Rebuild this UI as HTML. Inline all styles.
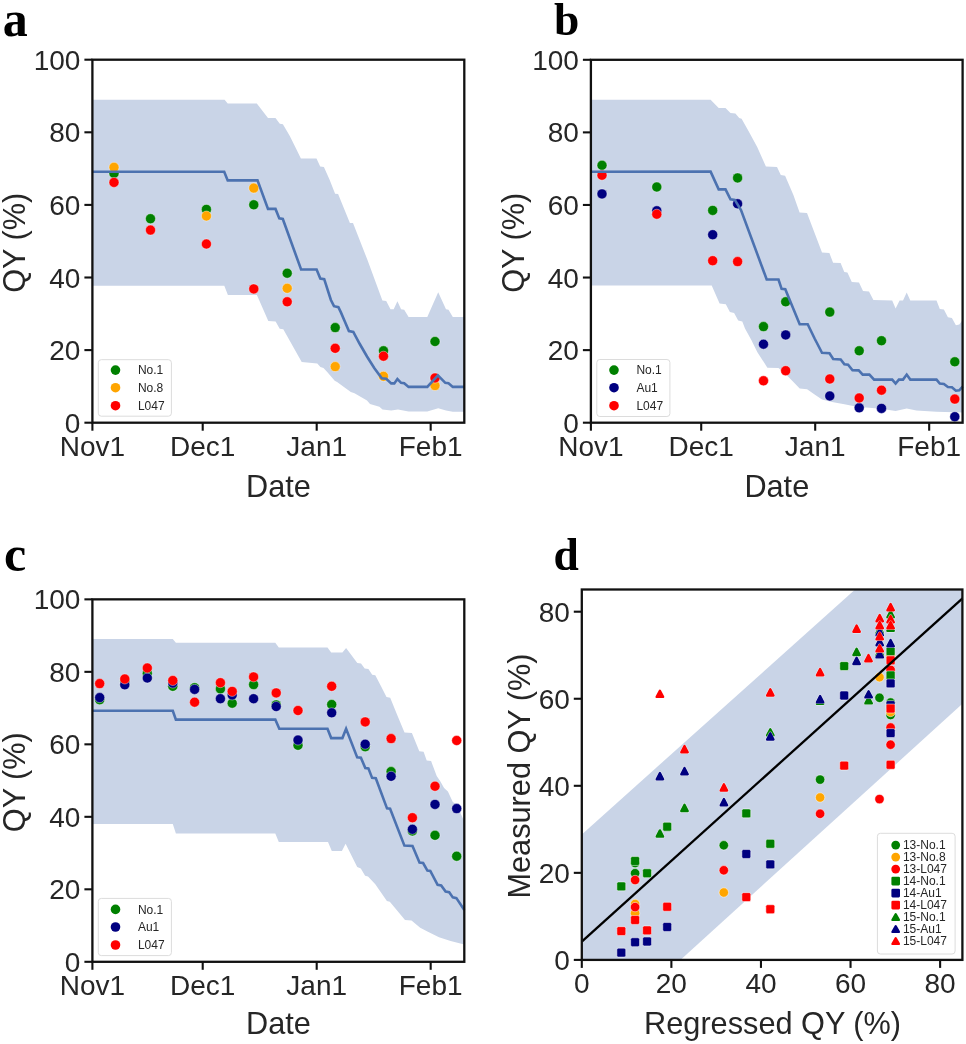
<!DOCTYPE html><html><head><meta charset="utf-8"><style>html,body{margin:0;padding:0;background:#fff;overflow:hidden}svg{display:block;will-change:transform}</style></head><body><svg width="966" height="1044" viewBox="0 0 966 1044">
<style>.tk{font-family:"Liberation Sans",sans-serif;font-size:28px;fill:#262626}.al{font-family:"Liberation Sans",sans-serif;font-size:30.7px;fill:#262626}.lg{font-family:"Liberation Sans",sans-serif;font-size:12px;fill:#262626}.pl{font-family:"Liberation Serif",serif;font-weight:bold;font-size:48px;fill:#000}</style>
<rect width="966" height="1044" fill="#fff"/>
<polygon points="92.4,99.7 224.6,99.7 227.7,103.4 256.8,103.4 268.0,118.0 275.5,118.0 279.8,123.8 282.9,124.2 289.8,136.0 296.0,148.4 300.9,158.6 316.5,158.6 320.2,166.4 323.9,167.0 329.5,179.5 335.1,193.8 338.1,193.9 349.9,222.9 353.0,222.9 367.3,259.6 382.4,300.4 386.2,301.0 390.5,309.3 393.7,309.3 397.4,301.2 401.1,309.3 404.2,309.7 408.6,317.1 427.3,317.1 438.2,292.2 446.0,309.3 448.5,309.7 452.8,317.1 464.3,317.1 464.3,411.8 452.8,411.8 446.0,410.5 438.2,408.3 427.3,411.4 408.6,411.4 398.0,409.6 391.2,410.5 382.5,409.6 379.4,406.8 370.0,404.0 367.0,400.6 354.5,393.2 350.8,391.9 344.6,387.6 337.1,382.0 334.7,380.7 327.2,372.0 323.5,368.1 320.4,367.1 317.3,363.4 301.7,362.0 283.3,329.2 279.7,328.7 275.6,321.4 268.3,320.9 256.9,295.0 227.9,295.0 224.3,285.7 92.4,285.7" fill="#c9d4e7"/>
<circle cx="114" cy="173.4" r="5.0" fill="#008000" stroke="#fff" stroke-width="0.4"/>
<circle cx="150.5" cy="218.7" r="5.0" fill="#008000" stroke="#fff" stroke-width="0.4"/>
<circle cx="206.4" cy="209.4" r="5.0" fill="#008000" stroke="#fff" stroke-width="0.4"/>
<circle cx="253.8" cy="204.8" r="5.0" fill="#008000" stroke="#fff" stroke-width="0.4"/>
<circle cx="287.2" cy="273.2" r="5.0" fill="#008000" stroke="#fff" stroke-width="0.4"/>
<circle cx="335.2" cy="327.6" r="5.0" fill="#008000" stroke="#fff" stroke-width="0.4"/>
<circle cx="383.5" cy="350.8" r="5.0" fill="#008000" stroke="#fff" stroke-width="0.4"/>
<circle cx="435" cy="341.5" r="5.0" fill="#008000" stroke="#fff" stroke-width="0.4"/>
<circle cx="114" cy="167.3" r="5.0" fill="#ffa500" stroke="#fff" stroke-width="0.4"/>
<circle cx="206.4" cy="216" r="5.0" fill="#ffa500" stroke="#fff" stroke-width="0.4"/>
<circle cx="253.8" cy="188.1" r="5.0" fill="#ffa500" stroke="#fff" stroke-width="0.4"/>
<circle cx="287.2" cy="288.3" r="5.0" fill="#ffa500" stroke="#fff" stroke-width="0.4"/>
<circle cx="335.2" cy="366.6" r="5.0" fill="#ffa500" stroke="#fff" stroke-width="0.4"/>
<circle cx="383.5" cy="376.3" r="5.0" fill="#ffa500" stroke="#fff" stroke-width="0.4"/>
<circle cx="435" cy="385.6" r="5.0" fill="#ffa500" stroke="#fff" stroke-width="0.4"/>
<circle cx="114" cy="182.4" r="5.0" fill="#ff0000" stroke="#fff" stroke-width="0.4"/>
<circle cx="150.5" cy="230.1" r="5.0" fill="#ff0000" stroke="#fff" stroke-width="0.4"/>
<circle cx="206.4" cy="244" r="5.0" fill="#ff0000" stroke="#fff" stroke-width="0.4"/>
<circle cx="253.8" cy="288.9" r="5.0" fill="#ff0000" stroke="#fff" stroke-width="0.4"/>
<circle cx="287.2" cy="301.8" r="5.0" fill="#ff0000" stroke="#fff" stroke-width="0.4"/>
<circle cx="335.2" cy="348.3" r="5.0" fill="#ff0000" stroke="#fff" stroke-width="0.4"/>
<circle cx="383.5" cy="356.2" r="5.0" fill="#ff0000" stroke="#fff" stroke-width="0.4"/>
<circle cx="435" cy="378" r="5.0" fill="#ff0000" stroke="#fff" stroke-width="0.4"/>
<polyline points="92.4,171.7 224.2,171.7 227.7,180.4 257.5,180.4 268.0,208.9 275.5,208.9 279.3,218.4 282.8,219.0 301.1,269.5 316.6,269.5 320.3,278.5 324.2,279.2 330.9,300.0 334.0,306.2 338.4,307.2 340.9,312.4 344.6,321.1 348.9,331.1 353.3,332.0 359.5,343.5 367.0,356.5 374.4,368.3 381.8,378.2 386.2,378.8 391.2,383.4 394.3,383.4 397.4,379.0 401.1,382.8 404.2,383.2 408.6,386.9 427.3,386.9 437.9,375.3 445.3,382.8 448.5,383.2 452.8,386.9 464.3,386.9" fill="none" stroke="#4c72b0" stroke-width="2.6" stroke-linejoin="miter"/>
<rect x="98.3" y="359.7" width="73.1" height="56.5" rx="3" fill="#fff" fill-opacity="0.8" stroke="#dcdcdc" stroke-width="1"/>
<circle cx="115.5" cy="370.1" r="4.8" fill="#008000"/>
<text x="137.9" y="374.4" class="lg">No.1</text>
<circle cx="115.5" cy="387.7" r="4.8" fill="#ffa500"/>
<text x="137.9" y="392.0" class="lg">No.8</text>
<circle cx="115.5" cy="405.7" r="4.8" fill="#ff0000"/>
<text x="137.9" y="410.0" class="lg">L047</text>
<rect x="92.4" y="59.7" width="371.90" height="363.00" fill="none" stroke="#111" stroke-width="2.3"/>
<line x1="84.4" y1="422.70" x2="92.4" y2="422.70" stroke="#111" stroke-width="2.1"/>
<text x="80.4" y="432.80" text-anchor="end" class="tk">0</text>
<line x1="84.4" y1="350.10" x2="92.4" y2="350.10" stroke="#111" stroke-width="2.1"/>
<text x="80.4" y="360.20" text-anchor="end" class="tk">20</text>
<line x1="84.4" y1="277.50" x2="92.4" y2="277.50" stroke="#111" stroke-width="2.1"/>
<text x="80.4" y="287.60" text-anchor="end" class="tk">40</text>
<line x1="84.4" y1="204.90" x2="92.4" y2="204.90" stroke="#111" stroke-width="2.1"/>
<text x="80.4" y="215.00" text-anchor="end" class="tk">60</text>
<line x1="84.4" y1="132.30" x2="92.4" y2="132.30" stroke="#111" stroke-width="2.1"/>
<text x="80.4" y="142.40" text-anchor="end" class="tk">80</text>
<line x1="84.4" y1="59.70" x2="92.4" y2="59.70" stroke="#111" stroke-width="2.1"/>
<text x="80.4" y="69.80" text-anchor="end" class="tk">100</text>
<line x1="92.40" y1="422.7" x2="92.40" y2="430.7" stroke="#111" stroke-width="2.1"/>
<text x="92.40" y="455.50" text-anchor="middle" class="tk">Nov1</text>
<line x1="202.71" y1="422.7" x2="202.71" y2="430.7" stroke="#111" stroke-width="2.1"/>
<text x="202.71" y="455.50" text-anchor="middle" class="tk">Dec1</text>
<line x1="316.70" y1="422.7" x2="316.70" y2="430.7" stroke="#111" stroke-width="2.1"/>
<text x="316.70" y="455.50" text-anchor="middle" class="tk">Jan1</text>
<line x1="430.68" y1="422.7" x2="430.68" y2="430.7" stroke="#111" stroke-width="2.1"/>
<text x="430.68" y="455.50" text-anchor="middle" class="tk">Feb1</text>
<text x="278.4" y="496.5" text-anchor="middle" class="al">Date</text>
<text transform="translate(25.4,242.8) rotate(-90)" text-anchor="middle" class="al">QY (%)</text>
<text x="2.8" y="35.7" class="pl" style="font-size:50px">a</text>
<polygon points="590.9,99.7 710.6,99.7 718.7,108.0 725.5,108.0 730.5,113.0 735.4,113.6 739.2,118.0 741.6,118.8 748.5,131.0 757.2,147.1 765.9,166.4 777.0,167.0 780.8,175.1 785.1,175.7 793.4,195.0 799.6,212.4 807.0,213.0 822.0,252.4 829.4,253.1 833.1,262.7 840.6,263.1 844.3,272.0 847.4,272.6 851.8,282.0 859.0,282.5 863.0,291.0 869.0,291.5 873.4,300.1 892.2,300.4 895.6,308.5 899.6,300.4 903.0,300.4 906.7,292.4 910.3,300.4 936.5,300.4 939.8,308.9 943.9,309.4 947.9,317.2 951.9,317.9 955.9,325.2 959.3,324.6 962.6,320.0 962.6,412.5 936.5,411.8 916.4,410.4 906.7,408.4 895.6,411.1 882.8,409.1 869.4,407.7 856.8,406.8 844.4,404.3 832.0,401.9 822.0,399.4 814.6,394.4 807.1,389.2 799.7,388.4 792.2,380.7 786.0,374.5 778.5,368.1 767.4,367.7 757.4,352.2 751.2,339.8 745.0,328.6 742.3,321.4 738.2,320.4 734.1,313.1 729.9,312.1 725.8,304.2 719.6,303.4 711.7,285.6 590.9,285.6" fill="#c9d4e7"/>
<circle cx="602" cy="165.3" r="5.0" fill="#008000" stroke="#fff" stroke-width="0.4"/>
<circle cx="656.8" cy="187" r="5.0" fill="#008000" stroke="#fff" stroke-width="0.4"/>
<circle cx="712.7" cy="210.4" r="5.0" fill="#008000" stroke="#fff" stroke-width="0.4"/>
<circle cx="737.6" cy="177.9" r="5.0" fill="#008000" stroke="#fff" stroke-width="0.4"/>
<circle cx="763.5" cy="326.6" r="5.0" fill="#008000" stroke="#fff" stroke-width="0.4"/>
<circle cx="785.7" cy="301.8" r="5.0" fill="#008000" stroke="#fff" stroke-width="0.4"/>
<circle cx="829.8" cy="312.1" r="5.0" fill="#008000" stroke="#fff" stroke-width="0.4"/>
<circle cx="859.2" cy="350.8" r="5.0" fill="#008000" stroke="#fff" stroke-width="0.4"/>
<circle cx="881.5" cy="340.7" r="5.0" fill="#008000" stroke="#fff" stroke-width="0.4"/>
<circle cx="954.8" cy="361.8" r="5.0" fill="#008000" stroke="#fff" stroke-width="0.4"/>
<circle cx="602" cy="193.9" r="5.0" fill="#000080" stroke="#fff" stroke-width="0.4"/>
<circle cx="656.8" cy="210.8" r="5.0" fill="#000080" stroke="#fff" stroke-width="0.4"/>
<circle cx="712.7" cy="234.7" r="5.0" fill="#000080" stroke="#fff" stroke-width="0.4"/>
<circle cx="737.6" cy="203.8" r="5.0" fill="#000080" stroke="#fff" stroke-width="0.4"/>
<circle cx="763.5" cy="344.2" r="5.0" fill="#000080" stroke="#fff" stroke-width="0.4"/>
<circle cx="785.7" cy="334.9" r="5.0" fill="#000080" stroke="#fff" stroke-width="0.4"/>
<circle cx="829.8" cy="396" r="5.0" fill="#000080" stroke="#fff" stroke-width="0.4"/>
<circle cx="859.2" cy="407.8" r="5.0" fill="#000080" stroke="#fff" stroke-width="0.4"/>
<circle cx="881.5" cy="408.4" r="5.0" fill="#000080" stroke="#fff" stroke-width="0.4"/>
<circle cx="954.8" cy="416.7" r="5.0" fill="#000080" stroke="#fff" stroke-width="0.4"/>
<circle cx="602" cy="175.2" r="5.0" fill="#ff0000" stroke="#fff" stroke-width="0.4"/>
<circle cx="656.8" cy="214.2" r="5.0" fill="#ff0000" stroke="#fff" stroke-width="0.4"/>
<circle cx="712.7" cy="260.7" r="5.0" fill="#ff0000" stroke="#fff" stroke-width="0.4"/>
<circle cx="737.6" cy="261.6" r="5.0" fill="#ff0000" stroke="#fff" stroke-width="0.4"/>
<circle cx="763.5" cy="380.8" r="5.0" fill="#ff0000" stroke="#fff" stroke-width="0.4"/>
<circle cx="785.7" cy="370.7" r="5.0" fill="#ff0000" stroke="#fff" stroke-width="0.4"/>
<circle cx="829.8" cy="379" r="5.0" fill="#ff0000" stroke="#fff" stroke-width="0.4"/>
<circle cx="859.2" cy="398" r="5.0" fill="#ff0000" stroke="#fff" stroke-width="0.4"/>
<circle cx="881.5" cy="390.2" r="5.0" fill="#ff0000" stroke="#fff" stroke-width="0.4"/>
<circle cx="954.8" cy="399.1" r="5.0" fill="#ff0000" stroke="#fff" stroke-width="0.4"/>
<polyline points="590.9,171.7 710.6,171.6 718.7,189.4 725.5,189.4 730.5,199.3 734.8,199.9 741.0,210.0 766.7,279.5 778.5,279.5 781.6,288.8 785.3,289.2 789.7,300.0 799.7,324.2 807.7,324.2 814.6,338.5 822.0,352.8 829.5,353.2 833.2,359.0 840.7,359.4 844.4,364.3 848.1,364.8 852.5,370.2 858.7,370.4 862.7,374.6 869.4,374.6 874.1,379.6 892.2,379.6 895.6,383.6 898.9,379.6 903.0,379.6 906.7,374.6 910.3,379.6 936.5,379.6 939.8,383.6 943.9,384.0 947.9,387.0 951.9,387.2 955.9,390.7 959.3,390.3 962.6,386.5" fill="none" stroke="#4c72b0" stroke-width="2.6" stroke-linejoin="miter"/>
<rect x="596.8" y="359.5" width="73.1" height="57.0" rx="3" fill="#fff" fill-opacity="0.8" stroke="#dcdcdc" stroke-width="1"/>
<circle cx="614.0" cy="370.1" r="4.8" fill="#008000"/>
<text x="636.4" y="374.4" class="lg">No.1</text>
<circle cx="614.0" cy="387.7" r="4.8" fill="#000080"/>
<text x="636.4" y="392.0" class="lg">Au1</text>
<circle cx="614.0" cy="405.7" r="4.8" fill="#ff0000"/>
<text x="636.4" y="410.0" class="lg">L047</text>
<rect x="590.9" y="59.8" width="371.70" height="362.90" fill="none" stroke="#111" stroke-width="2.3"/>
<line x1="582.9" y1="422.70" x2="590.9" y2="422.70" stroke="#111" stroke-width="2.1"/>
<text x="578.9" y="432.80" text-anchor="end" class="tk">0</text>
<line x1="582.9" y1="350.12" x2="590.9" y2="350.12" stroke="#111" stroke-width="2.1"/>
<text x="578.9" y="360.22" text-anchor="end" class="tk">20</text>
<line x1="582.9" y1="277.54" x2="590.9" y2="277.54" stroke="#111" stroke-width="2.1"/>
<text x="578.9" y="287.64" text-anchor="end" class="tk">40</text>
<line x1="582.9" y1="204.96" x2="590.9" y2="204.96" stroke="#111" stroke-width="2.1"/>
<text x="578.9" y="215.06" text-anchor="end" class="tk">60</text>
<line x1="582.9" y1="132.38" x2="590.9" y2="132.38" stroke="#111" stroke-width="2.1"/>
<text x="578.9" y="142.48" text-anchor="end" class="tk">80</text>
<line x1="582.9" y1="59.80" x2="590.9" y2="59.80" stroke="#111" stroke-width="2.1"/>
<text x="578.9" y="69.90" text-anchor="end" class="tk">100</text>
<line x1="590.90" y1="422.7" x2="590.90" y2="430.7" stroke="#111" stroke-width="2.1"/>
<text x="590.90" y="455.50" text-anchor="middle" class="tk">Nov1</text>
<line x1="701.21" y1="422.7" x2="701.21" y2="430.7" stroke="#111" stroke-width="2.1"/>
<text x="701.21" y="455.50" text-anchor="middle" class="tk">Dec1</text>
<line x1="815.20" y1="422.7" x2="815.20" y2="430.7" stroke="#111" stroke-width="2.1"/>
<text x="815.20" y="455.50" text-anchor="middle" class="tk">Jan1</text>
<line x1="929.18" y1="422.7" x2="929.18" y2="430.7" stroke="#111" stroke-width="2.1"/>
<text x="929.18" y="455.50" text-anchor="middle" class="tk">Feb1</text>
<text x="776.8" y="496.5" text-anchor="middle" class="al">Date</text>
<text transform="translate(523.9,242.8) rotate(-90)" text-anchor="middle" class="al">QY (%)</text>
<text x="554" y="34.7" class="pl" style="font-size:45.5px">b</text>
<polygon points="92.4,639.0 172.8,639.0 175.9,642.8 275.3,642.8 278.8,647.4 327.5,647.4 331.2,652.4 342.4,652.4 346.1,648.0 357.3,662.9 361.0,663.5 364.7,668.5 368.4,669.1 372.2,674.7 375.3,675.3 380.9,685.9 386.5,697.1 390.2,697.7 397.0,714.5 404.5,732.5 411.9,732.9 419.3,751.2 423.6,751.8 426.7,760.5 431.1,761.1 436.7,776.1 440.4,781.6 444.1,787.9 447.9,791.6 452.8,802.1 456.6,804.6 462.8,818.3 464.3,821.0 464.3,944.6 450.6,940.9 439.0,937.2 427.4,931.4 420.2,927.8 411.5,920.6 405.0,919.9 389.8,901.7 386.9,901.0 375.3,884.3 368.0,876.4 365.1,875.7 360.8,868.4 357.2,867.0 345.6,843.8 341.9,851.0 331.8,851.0 328.0,842.1 278.8,842.1 275.3,833.4 175.9,833.4 172.8,824.1 92.4,824.1" fill="#c9d4e7"/>
<circle cx="99.7" cy="699.7" r="5.0" fill="#008000" stroke="#fff" stroke-width="0.4"/>
<circle cx="124.8" cy="681" r="5.0" fill="#008000" stroke="#fff" stroke-width="0.4"/>
<circle cx="147.3" cy="673.4" r="5.0" fill="#008000" stroke="#fff" stroke-width="0.4"/>
<circle cx="172.8" cy="686.3" r="5.0" fill="#008000" stroke="#fff" stroke-width="0.4"/>
<circle cx="194.6" cy="687.7" r="5.0" fill="#008000" stroke="#fff" stroke-width="0.4"/>
<circle cx="220.4" cy="688.9" r="5.0" fill="#008000" stroke="#fff" stroke-width="0.4"/>
<circle cx="232.2" cy="703.2" r="5.0" fill="#008000" stroke="#fff" stroke-width="0.4"/>
<circle cx="253.6" cy="684.6" r="5.0" fill="#008000" stroke="#fff" stroke-width="0.4"/>
<circle cx="276.2" cy="704.9" r="5.0" fill="#008000" stroke="#fff" stroke-width="0.4"/>
<circle cx="298" cy="745.3" r="5.0" fill="#008000" stroke="#fff" stroke-width="0.4"/>
<circle cx="331.7" cy="704.5" r="5.0" fill="#008000" stroke="#fff" stroke-width="0.4"/>
<circle cx="365.2" cy="746.7" r="5.0" fill="#008000" stroke="#fff" stroke-width="0.4"/>
<circle cx="391.1" cy="771.6" r="5.0" fill="#008000" stroke="#fff" stroke-width="0.4"/>
<circle cx="412.4" cy="831" r="5.0" fill="#008000" stroke="#fff" stroke-width="0.4"/>
<circle cx="435" cy="835.3" r="5.0" fill="#008000" stroke="#fff" stroke-width="0.4"/>
<circle cx="456.7" cy="856.2" r="5.0" fill="#008000" stroke="#fff" stroke-width="0.4"/>
<circle cx="99.7" cy="697.6" r="5.0" fill="#000080" stroke="#fff" stroke-width="0.4"/>
<circle cx="124.8" cy="684.8" r="5.0" fill="#000080" stroke="#fff" stroke-width="0.4"/>
<circle cx="147.3" cy="678" r="5.0" fill="#000080" stroke="#fff" stroke-width="0.4"/>
<circle cx="172.8" cy="683.1" r="5.0" fill="#000080" stroke="#fff" stroke-width="0.4"/>
<circle cx="194.6" cy="689.4" r="5.0" fill="#000080" stroke="#fff" stroke-width="0.4"/>
<circle cx="220.4" cy="698.7" r="5.0" fill="#000080" stroke="#fff" stroke-width="0.4"/>
<circle cx="232.2" cy="695" r="5.0" fill="#000080" stroke="#fff" stroke-width="0.4"/>
<circle cx="253.6" cy="698.7" r="5.0" fill="#000080" stroke="#fff" stroke-width="0.4"/>
<circle cx="276.2" cy="706.5" r="5.0" fill="#000080" stroke="#fff" stroke-width="0.4"/>
<circle cx="298" cy="740.1" r="5.0" fill="#000080" stroke="#fff" stroke-width="0.4"/>
<circle cx="331.7" cy="712.8" r="5.0" fill="#000080" stroke="#fff" stroke-width="0.4"/>
<circle cx="365.2" cy="744.2" r="5.0" fill="#000080" stroke="#fff" stroke-width="0.4"/>
<circle cx="391.1" cy="776.3" r="5.0" fill="#000080" stroke="#fff" stroke-width="0.4"/>
<circle cx="412.4" cy="829.3" r="5.0" fill="#000080" stroke="#fff" stroke-width="0.4"/>
<circle cx="435" cy="804.4" r="5.0" fill="#000080" stroke="#fff" stroke-width="0.4"/>
<circle cx="456.7" cy="808.6" r="5.0" fill="#000080" stroke="#fff" stroke-width="0.4"/>
<circle cx="99.7" cy="683.6" r="5.0" fill="#ff0000" stroke="#fff" stroke-width="0.4"/>
<circle cx="124.8" cy="679" r="5.0" fill="#ff0000" stroke="#fff" stroke-width="0.4"/>
<circle cx="147.3" cy="668" r="5.0" fill="#ff0000" stroke="#fff" stroke-width="0.4"/>
<circle cx="172.8" cy="680.5" r="5.0" fill="#ff0000" stroke="#fff" stroke-width="0.4"/>
<circle cx="194.6" cy="702.2" r="5.0" fill="#ff0000" stroke="#fff" stroke-width="0.4"/>
<circle cx="220.4" cy="682.7" r="5.0" fill="#ff0000" stroke="#fff" stroke-width="0.4"/>
<circle cx="232.2" cy="691.4" r="5.0" fill="#ff0000" stroke="#fff" stroke-width="0.4"/>
<circle cx="253.6" cy="676.9" r="5.0" fill="#ff0000" stroke="#fff" stroke-width="0.4"/>
<circle cx="276.2" cy="692.9" r="5.0" fill="#ff0000" stroke="#fff" stroke-width="0.4"/>
<circle cx="298" cy="710.5" r="5.0" fill="#ff0000" stroke="#fff" stroke-width="0.4"/>
<circle cx="331.7" cy="686.3" r="5.0" fill="#ff0000" stroke="#fff" stroke-width="0.4"/>
<circle cx="365.2" cy="721.9" r="5.0" fill="#ff0000" stroke="#fff" stroke-width="0.4"/>
<circle cx="391.1" cy="738.6" r="5.0" fill="#ff0000" stroke="#fff" stroke-width="0.4"/>
<circle cx="412.4" cy="817.7" r="5.0" fill="#ff0000" stroke="#fff" stroke-width="0.4"/>
<circle cx="435" cy="786.2" r="5.0" fill="#ff0000" stroke="#fff" stroke-width="0.4"/>
<circle cx="456.7" cy="740.5" r="5.0" fill="#ff0000" stroke="#fff" stroke-width="0.4"/>
<polyline points="92.4,710.7 172.8,710.7 175.9,719.6 275.3,719.6 279.3,728.8 327.5,728.8 331.2,738.1 342.4,738.1 346.1,728.8 357.2,757.4 360.9,757.8 365.3,768.0 368.4,768.4 372.1,777.9 375.8,778.3 387.0,808.4 390.1,808.7 404.4,845.6 412.5,846.0 419.5,862.6 423.1,863.0 427.4,870.6 430.3,871.0 437.6,884.8 441.2,885.4 445.6,891.6 449.2,892.3 452.8,897.4 456.4,898.1 464.3,910.0" fill="none" stroke="#4c72b0" stroke-width="2.6" stroke-linejoin="miter"/>
<rect x="98.3" y="898.4" width="73.1" height="57.2" rx="3" fill="#fff" fill-opacity="0.8" stroke="#dcdcdc" stroke-width="1"/>
<circle cx="115.5" cy="909.4" r="4.8" fill="#008000"/>
<text x="137.9" y="913.7" class="lg">No.1</text>
<circle cx="115.5" cy="927" r="4.8" fill="#000080"/>
<text x="137.9" y="931.3" class="lg">Au1</text>
<circle cx="115.5" cy="945" r="4.8" fill="#ff0000"/>
<text x="137.9" y="949.3" class="lg">L047</text>
<rect x="92.4" y="599.35" width="371.90" height="362.45" fill="none" stroke="#111" stroke-width="2.3"/>
<line x1="84.4" y1="961.80" x2="92.4" y2="961.80" stroke="#111" stroke-width="2.1"/>
<text x="80.4" y="971.90" text-anchor="end" class="tk">0</text>
<line x1="84.4" y1="889.31" x2="92.4" y2="889.31" stroke="#111" stroke-width="2.1"/>
<text x="80.4" y="899.41" text-anchor="end" class="tk">20</text>
<line x1="84.4" y1="816.82" x2="92.4" y2="816.82" stroke="#111" stroke-width="2.1"/>
<text x="80.4" y="826.92" text-anchor="end" class="tk">40</text>
<line x1="84.4" y1="744.33" x2="92.4" y2="744.33" stroke="#111" stroke-width="2.1"/>
<text x="80.4" y="754.43" text-anchor="end" class="tk">60</text>
<line x1="84.4" y1="671.84" x2="92.4" y2="671.84" stroke="#111" stroke-width="2.1"/>
<text x="80.4" y="681.94" text-anchor="end" class="tk">80</text>
<line x1="84.4" y1="599.35" x2="92.4" y2="599.35" stroke="#111" stroke-width="2.1"/>
<text x="80.4" y="609.45" text-anchor="end" class="tk">100</text>
<line x1="92.40" y1="961.8" x2="92.40" y2="969.8" stroke="#111" stroke-width="2.1"/>
<text x="92.40" y="994.60" text-anchor="middle" class="tk">Nov1</text>
<line x1="202.71" y1="961.8" x2="202.71" y2="969.8" stroke="#111" stroke-width="2.1"/>
<text x="202.71" y="994.60" text-anchor="middle" class="tk">Dec1</text>
<line x1="316.70" y1="961.8" x2="316.70" y2="969.8" stroke="#111" stroke-width="2.1"/>
<text x="316.70" y="994.60" text-anchor="middle" class="tk">Jan1</text>
<line x1="430.68" y1="961.8" x2="430.68" y2="969.8" stroke="#111" stroke-width="2.1"/>
<text x="430.68" y="994.60" text-anchor="middle" class="tk">Feb1</text>
<text x="278.4" y="1034.2" text-anchor="middle" class="al">Date</text>
<text transform="translate(25.4,782.2) rotate(-90)" text-anchor="middle" class="al">QY (%)</text>
<text x="4" y="571.3" class="pl" style="font-size:50px">c</text>
<polygon points="581.8,959.9 581.8,834.4 855.1,589.5 962.4,589.5 962.4,703.8 680.4,959.9" fill="#c9d4e7"/>
<circle cx="635.1" cy="863" r="4.7" fill="#008000" stroke="#fff" stroke-width="0.5"/>
<circle cx="635.1" cy="873.2" r="4.7" fill="#008000" stroke="#fff" stroke-width="0.5"/>
<circle cx="723.8" cy="845.3" r="4.7" fill="#008000" stroke="#fff" stroke-width="0.5"/>
<circle cx="820.1" cy="779.6" r="4.7" fill="#008000" stroke="#fff" stroke-width="0.5"/>
<circle cx="879.5" cy="697.8" r="4.7" fill="#008000" stroke="#fff" stroke-width="0.5"/>
<circle cx="890.6" cy="702.5" r="4.7" fill="#008000" stroke="#fff" stroke-width="0.5"/>
<circle cx="890.6" cy="715" r="4.7" fill="#008000" stroke="#fff" stroke-width="0.5"/>
<circle cx="635.1" cy="904" r="4.7" fill="#ffa500" stroke="#fff" stroke-width="0.5"/>
<circle cx="635.1" cy="913.3" r="4.7" fill="#ffa500" stroke="#fff" stroke-width="0.5"/>
<circle cx="723.8" cy="892.5" r="4.7" fill="#ffa500" stroke="#fff" stroke-width="0.5"/>
<circle cx="820.1" cy="797.5" r="4.7" fill="#ffa500" stroke="#fff" stroke-width="0.5"/>
<circle cx="879.5" cy="677.2" r="4.7" fill="#ffa500" stroke="#fff" stroke-width="0.5"/>
<circle cx="890.6" cy="712" r="4.7" fill="#ffa500" stroke="#fff" stroke-width="0.5"/>
<circle cx="890.6" cy="655.3" r="4.7" fill="#ffa500" stroke="#fff" stroke-width="0.5"/>
<circle cx="635.1" cy="880" r="4.7" fill="#ff0000" stroke="#fff" stroke-width="0.5"/>
<circle cx="635.1" cy="907.1" r="4.7" fill="#ff0000" stroke="#fff" stroke-width="0.5"/>
<circle cx="723.8" cy="870.3" r="4.7" fill="#ff0000" stroke="#fff" stroke-width="0.5"/>
<circle cx="820.1" cy="813.8" r="4.7" fill="#ff0000" stroke="#fff" stroke-width="0.5"/>
<circle cx="879.5" cy="799.1" r="4.7" fill="#ff0000" stroke="#fff" stroke-width="0.5"/>
<circle cx="890.6" cy="669.9" r="4.7" fill="#ff0000" stroke="#fff" stroke-width="0.5"/>
<circle cx="890.6" cy="727.5" r="4.7" fill="#ff0000" stroke="#fff" stroke-width="0.5"/>
<circle cx="890.6" cy="744.7" r="4.7" fill="#ff0000" stroke="#fff" stroke-width="0.5"/>
<rect x="616.85" y="881.95" width="8.9" height="8.9" rx="1.6" fill="#008000" stroke="#fff" stroke-width="0.5"/>
<rect x="630.65" y="856.55" width="8.9" height="8.9" rx="1.6" fill="#008000" stroke="#fff" stroke-width="0.5"/>
<rect x="642.65" y="868.75" width="8.9" height="8.9" rx="1.6" fill="#008000" stroke="#fff" stroke-width="0.5"/>
<rect x="662.75" y="822.25" width="8.9" height="8.9" rx="1.6" fill="#008000" stroke="#fff" stroke-width="0.5"/>
<rect x="741.85" y="808.95" width="8.9" height="8.9" rx="1.6" fill="#008000" stroke="#fff" stroke-width="0.5"/>
<rect x="765.85" y="839.35" width="8.9" height="8.9" rx="1.6" fill="#008000" stroke="#fff" stroke-width="0.5"/>
<rect x="839.75" y="661.65" width="8.9" height="8.9" rx="1.6" fill="#008000" stroke="#fff" stroke-width="0.5"/>
<rect x="886.15" y="646.85" width="8.9" height="8.9" rx="1.6" fill="#008000" stroke="#fff" stroke-width="0.5"/>
<rect x="886.15" y="670.95" width="8.9" height="8.9" rx="1.6" fill="#008000" stroke="#fff" stroke-width="0.5"/>
<rect x="616.85" y="948.15" width="8.9" height="8.9" rx="1.6" fill="#000080" stroke="#fff" stroke-width="0.5"/>
<rect x="630.65" y="937.75" width="8.9" height="8.9" rx="1.6" fill="#000080" stroke="#fff" stroke-width="0.5"/>
<rect x="642.65" y="937.05" width="8.9" height="8.9" rx="1.6" fill="#000080" stroke="#fff" stroke-width="0.5"/>
<rect x="662.75" y="922.55" width="8.9" height="8.9" rx="1.6" fill="#000080" stroke="#fff" stroke-width="0.5"/>
<rect x="741.85" y="849.55" width="8.9" height="8.9" rx="1.6" fill="#000080" stroke="#fff" stroke-width="0.5"/>
<rect x="765.85" y="859.95" width="8.9" height="8.9" rx="1.6" fill="#000080" stroke="#fff" stroke-width="0.5"/>
<rect x="839.75" y="691.05" width="8.9" height="8.9" rx="1.6" fill="#000080" stroke="#fff" stroke-width="0.5"/>
<rect x="886.15" y="678.95" width="8.9" height="8.9" rx="1.6" fill="#000080" stroke="#fff" stroke-width="0.5"/>
<rect x="886.15" y="700.65" width="8.9" height="8.9" rx="1.6" fill="#000080" stroke="#fff" stroke-width="0.5"/>
<rect x="886.15" y="728.65" width="8.9" height="8.9" rx="1.6" fill="#000080" stroke="#fff" stroke-width="0.5"/>
<rect x="616.85" y="926.65" width="8.9" height="8.9" rx="1.6" fill="#ff0000" stroke="#fff" stroke-width="0.5"/>
<rect x="630.65" y="915.55" width="8.9" height="8.9" rx="1.6" fill="#ff0000" stroke="#fff" stroke-width="0.5"/>
<rect x="642.65" y="925.95" width="8.9" height="8.9" rx="1.6" fill="#ff0000" stroke="#fff" stroke-width="0.5"/>
<rect x="662.75" y="902.35" width="8.9" height="8.9" rx="1.6" fill="#ff0000" stroke="#fff" stroke-width="0.5"/>
<rect x="741.85" y="892.65" width="8.9" height="8.9" rx="1.6" fill="#ff0000" stroke="#fff" stroke-width="0.5"/>
<rect x="765.85" y="904.75" width="8.9" height="8.9" rx="1.6" fill="#ff0000" stroke="#fff" stroke-width="0.5"/>
<rect x="839.75" y="761.15" width="8.9" height="8.9" rx="1.6" fill="#ff0000" stroke="#fff" stroke-width="0.5"/>
<rect x="886.15" y="655.85" width="8.9" height="8.9" rx="1.6" fill="#ff0000" stroke="#fff" stroke-width="0.5"/>
<rect x="886.15" y="704.05" width="8.9" height="8.9" rx="1.6" fill="#ff0000" stroke="#fff" stroke-width="0.5"/>
<rect x="886.15" y="760.35" width="8.9" height="8.9" rx="1.6" fill="#ff0000" stroke="#fff" stroke-width="0.5"/>
<path d="M659.90,830.40 L663.10,836.60 L656.70,836.60 Z" fill="#fff" stroke="#fff" stroke-width="3.3" stroke-linejoin="round" opacity="0.7"/>
<path d="M659.90,830.40 L663.10,836.60 L656.70,836.60 Z" fill="#008000" stroke="#008000" stroke-width="2.4" stroke-linejoin="round"/>
<path d="M684.50,804.80 L687.70,811.00 L681.30,811.00 Z" fill="#fff" stroke="#fff" stroke-width="3.3" stroke-linejoin="round" opacity="0.7"/>
<path d="M684.50,804.80 L687.70,811.00 L681.30,811.00 Z" fill="#008000" stroke="#008000" stroke-width="2.4" stroke-linejoin="round"/>
<path d="M770.30,729.20 L773.50,735.40 L767.10,735.40 Z" fill="#fff" stroke="#fff" stroke-width="3.3" stroke-linejoin="round" opacity="0.7"/>
<path d="M770.30,729.20 L773.50,735.40 L767.10,735.40 Z" fill="#008000" stroke="#008000" stroke-width="2.4" stroke-linejoin="round"/>
<path d="M820.10,697.60 L823.30,703.80 L816.90,703.80 Z" fill="#fff" stroke="#fff" stroke-width="3.3" stroke-linejoin="round" opacity="0.7"/>
<path d="M820.10,697.60 L823.30,703.80 L816.90,703.80 Z" fill="#008000" stroke="#008000" stroke-width="2.4" stroke-linejoin="round"/>
<path d="M856.60,648.80 L859.80,655.00 L853.40,655.00 Z" fill="#fff" stroke="#fff" stroke-width="3.3" stroke-linejoin="round" opacity="0.7"/>
<path d="M856.60,648.80 L859.80,655.00 L853.40,655.00 Z" fill="#008000" stroke="#008000" stroke-width="2.4" stroke-linejoin="round"/>
<path d="M868.60,697.20 L871.80,703.40 L865.40,703.40 Z" fill="#fff" stroke="#fff" stroke-width="3.3" stroke-linejoin="round" opacity="0.7"/>
<path d="M868.60,697.20 L871.80,703.40 L865.40,703.40 Z" fill="#008000" stroke="#008000" stroke-width="2.4" stroke-linejoin="round"/>
<path d="M879.70,649.20 L882.90,655.40 L876.50,655.40 Z" fill="#fff" stroke="#fff" stroke-width="3.3" stroke-linejoin="round" opacity="0.7"/>
<path d="M879.70,649.20 L882.90,655.40 L876.50,655.40 Z" fill="#008000" stroke="#008000" stroke-width="2.4" stroke-linejoin="round"/>
<path d="M890.60,611.00 L893.80,617.20 L887.40,617.20 Z" fill="#fff" stroke="#fff" stroke-width="3.3" stroke-linejoin="round" opacity="0.7"/>
<path d="M890.60,611.00 L893.80,617.20 L887.40,617.20 Z" fill="#008000" stroke="#008000" stroke-width="2.4" stroke-linejoin="round"/>
<path d="M890.60,624.60 L893.80,630.80 L887.40,630.80 Z" fill="#fff" stroke="#fff" stroke-width="3.3" stroke-linejoin="round" opacity="0.7"/>
<path d="M890.60,624.60 L893.80,630.80 L887.40,630.80 Z" fill="#008000" stroke="#008000" stroke-width="2.4" stroke-linejoin="round"/>
<path d="M879.70,626.90 L882.90,633.10 L876.50,633.10 Z" fill="#fff" stroke="#fff" stroke-width="3.3" stroke-linejoin="round" opacity="0.7"/>
<path d="M879.70,626.90 L882.90,633.10 L876.50,633.10 Z" fill="#008000" stroke="#008000" stroke-width="2.4" stroke-linejoin="round"/>
<path d="M659.90,773.00 L663.10,779.20 L656.70,779.20 Z" fill="#fff" stroke="#fff" stroke-width="3.3" stroke-linejoin="round" opacity="0.7"/>
<path d="M659.90,773.00 L663.10,779.20 L656.70,779.20 Z" fill="#000080" stroke="#000080" stroke-width="2.4" stroke-linejoin="round"/>
<path d="M684.50,768.10 L687.70,774.30 L681.30,774.30 Z" fill="#fff" stroke="#fff" stroke-width="3.3" stroke-linejoin="round" opacity="0.7"/>
<path d="M684.50,768.10 L687.70,774.30 L681.30,774.30 Z" fill="#000080" stroke="#000080" stroke-width="2.4" stroke-linejoin="round"/>
<path d="M723.90,799.00 L727.10,805.20 L720.70,805.20 Z" fill="#fff" stroke="#fff" stroke-width="3.3" stroke-linejoin="round" opacity="0.7"/>
<path d="M723.90,799.00 L727.10,805.20 L720.70,805.20 Z" fill="#000080" stroke="#000080" stroke-width="2.4" stroke-linejoin="round"/>
<path d="M770.30,733.30 L773.50,739.50 L767.10,739.50 Z" fill="#fff" stroke="#fff" stroke-width="3.3" stroke-linejoin="round" opacity="0.7"/>
<path d="M770.30,733.30 L773.50,739.50 L767.10,739.50 Z" fill="#000080" stroke="#000080" stroke-width="2.4" stroke-linejoin="round"/>
<path d="M820.10,696.00 L823.30,702.20 L816.90,702.20 Z" fill="#fff" stroke="#fff" stroke-width="3.3" stroke-linejoin="round" opacity="0.7"/>
<path d="M820.10,696.00 L823.30,702.20 L816.90,702.20 Z" fill="#000080" stroke="#000080" stroke-width="2.4" stroke-linejoin="round"/>
<path d="M856.60,657.80 L859.80,664.00 L853.40,664.00 Z" fill="#fff" stroke="#fff" stroke-width="3.3" stroke-linejoin="round" opacity="0.7"/>
<path d="M856.60,657.80 L859.80,664.00 L853.40,664.00 Z" fill="#000080" stroke="#000080" stroke-width="2.4" stroke-linejoin="round"/>
<path d="M868.60,691.20 L871.80,697.40 L865.40,697.40 Z" fill="#fff" stroke="#fff" stroke-width="3.3" stroke-linejoin="round" opacity="0.7"/>
<path d="M868.60,691.20 L871.80,697.40 L865.40,697.40 Z" fill="#000080" stroke="#000080" stroke-width="2.4" stroke-linejoin="round"/>
<path d="M879.70,629.10 L882.90,635.30 L876.50,635.30 Z" fill="#fff" stroke="#fff" stroke-width="3.3" stroke-linejoin="round" opacity="0.7"/>
<path d="M879.70,629.10 L882.90,635.30 L876.50,635.30 Z" fill="#000080" stroke="#000080" stroke-width="2.4" stroke-linejoin="round"/>
<path d="M879.70,639.10 L882.90,645.30 L876.50,645.30 Z" fill="#fff" stroke="#fff" stroke-width="3.3" stroke-linejoin="round" opacity="0.7"/>
<path d="M879.70,639.10 L882.90,645.30 L876.50,645.30 Z" fill="#000080" stroke="#000080" stroke-width="2.4" stroke-linejoin="round"/>
<path d="M879.70,651.20 L882.90,657.40 L876.50,657.40 Z" fill="#fff" stroke="#fff" stroke-width="3.3" stroke-linejoin="round" opacity="0.7"/>
<path d="M879.70,651.20 L882.90,657.40 L876.50,657.40 Z" fill="#000080" stroke="#000080" stroke-width="2.4" stroke-linejoin="round"/>
<path d="M890.60,640.10 L893.80,646.30 L887.40,646.30 Z" fill="#fff" stroke="#fff" stroke-width="3.3" stroke-linejoin="round" opacity="0.7"/>
<path d="M890.60,640.10 L893.80,646.30 L887.40,646.30 Z" fill="#000080" stroke="#000080" stroke-width="2.4" stroke-linejoin="round"/>
<path d="M659.90,690.70 L663.10,696.90 L656.70,696.90 Z" fill="#fff" stroke="#fff" stroke-width="3.3" stroke-linejoin="round" opacity="0.7"/>
<path d="M659.90,690.70 L663.10,696.90 L656.70,696.90 Z" fill="#ff0000" stroke="#ff0000" stroke-width="2.4" stroke-linejoin="round"/>
<path d="M684.50,746.10 L687.70,752.30 L681.30,752.30 Z" fill="#fff" stroke="#fff" stroke-width="3.3" stroke-linejoin="round" opacity="0.7"/>
<path d="M684.50,746.10 L687.70,752.30 L681.30,752.30 Z" fill="#ff0000" stroke="#ff0000" stroke-width="2.4" stroke-linejoin="round"/>
<path d="M723.90,784.30 L727.10,790.50 L720.70,790.50 Z" fill="#fff" stroke="#fff" stroke-width="3.3" stroke-linejoin="round" opacity="0.7"/>
<path d="M723.90,784.30 L727.10,790.50 L720.70,790.50 Z" fill="#ff0000" stroke="#ff0000" stroke-width="2.4" stroke-linejoin="round"/>
<path d="M770.30,689.30 L773.50,695.50 L767.10,695.50 Z" fill="#fff" stroke="#fff" stroke-width="3.3" stroke-linejoin="round" opacity="0.7"/>
<path d="M770.30,689.30 L773.50,695.50 L767.10,695.50 Z" fill="#ff0000" stroke="#ff0000" stroke-width="2.4" stroke-linejoin="round"/>
<path d="M820.10,669.10 L823.30,675.30 L816.90,675.30 Z" fill="#fff" stroke="#fff" stroke-width="3.3" stroke-linejoin="round" opacity="0.7"/>
<path d="M820.10,669.10 L823.30,675.30 L816.90,675.30 Z" fill="#ff0000" stroke="#ff0000" stroke-width="2.4" stroke-linejoin="round"/>
<path d="M856.60,625.60 L859.80,631.80 L853.40,631.80 Z" fill="#fff" stroke="#fff" stroke-width="3.3" stroke-linejoin="round" opacity="0.7"/>
<path d="M856.60,625.60 L859.80,631.80 L853.40,631.80 Z" fill="#ff0000" stroke="#ff0000" stroke-width="2.4" stroke-linejoin="round"/>
<path d="M868.50,655.10 L871.70,661.30 L865.30,661.30 Z" fill="#fff" stroke="#fff" stroke-width="3.3" stroke-linejoin="round" opacity="0.7"/>
<path d="M868.50,655.10 L871.70,661.30 L865.30,661.30 Z" fill="#ff0000" stroke="#ff0000" stroke-width="2.4" stroke-linejoin="round"/>
<path d="M879.70,615.00 L882.90,621.20 L876.50,621.20 Z" fill="#fff" stroke="#fff" stroke-width="3.3" stroke-linejoin="round" opacity="0.7"/>
<path d="M879.70,615.00 L882.90,621.20 L876.50,621.20 Z" fill="#ff0000" stroke="#ff0000" stroke-width="2.4" stroke-linejoin="round"/>
<path d="M879.70,622.10 L882.90,628.30 L876.50,628.30 Z" fill="#fff" stroke="#fff" stroke-width="3.3" stroke-linejoin="round" opacity="0.7"/>
<path d="M879.70,622.10 L882.90,628.30 L876.50,628.30 Z" fill="#ff0000" stroke="#ff0000" stroke-width="2.4" stroke-linejoin="round"/>
<path d="M879.70,633.10 L882.90,639.30 L876.50,639.30 Z" fill="#fff" stroke="#fff" stroke-width="3.3" stroke-linejoin="round" opacity="0.7"/>
<path d="M879.70,633.10 L882.90,639.30 L876.50,639.30 Z" fill="#ff0000" stroke="#ff0000" stroke-width="2.4" stroke-linejoin="round"/>
<path d="M879.70,645.20 L882.90,651.40 L876.50,651.40 Z" fill="#fff" stroke="#fff" stroke-width="3.3" stroke-linejoin="round" opacity="0.7"/>
<path d="M879.70,645.20 L882.90,651.40 L876.50,651.40 Z" fill="#ff0000" stroke="#ff0000" stroke-width="2.4" stroke-linejoin="round"/>
<path d="M890.60,604.00 L893.80,610.20 L887.40,610.20 Z" fill="#fff" stroke="#fff" stroke-width="3.3" stroke-linejoin="round" opacity="0.7"/>
<path d="M890.60,604.00 L893.80,610.20 L887.40,610.20 Z" fill="#ff0000" stroke="#ff0000" stroke-width="2.4" stroke-linejoin="round"/>
<path d="M890.60,616.00 L893.80,622.20 L887.40,622.20 Z" fill="#fff" stroke="#fff" stroke-width="3.3" stroke-linejoin="round" opacity="0.7"/>
<path d="M890.60,616.00 L893.80,622.20 L887.40,622.20 Z" fill="#ff0000" stroke="#ff0000" stroke-width="2.4" stroke-linejoin="round"/>
<path d="M890.60,622.10 L893.80,628.30 L887.40,628.30 Z" fill="#fff" stroke="#fff" stroke-width="3.3" stroke-linejoin="round" opacity="0.7"/>
<path d="M890.60,622.10 L893.80,628.30 L887.40,628.30 Z" fill="#ff0000" stroke="#ff0000" stroke-width="2.4" stroke-linejoin="round"/>
<line x1="581.80" y1="941.62" x2="962.51" y2="598.29" stroke="#000" stroke-width="2.3"/>
<rect x="877.4" y="833.3" width="77.7" height="120.7" rx="3" fill="#fff" fill-opacity="0.8" stroke="#dcdcdc" stroke-width="1"/>
<circle cx="895.7" cy="845.1" r="4.4" fill="#008000"/>
<text x="902.9" y="849.3" class="lg">13-No.1</text>
<circle cx="895.7" cy="857.1" r="4.4" fill="#ffa500"/>
<text x="902.9" y="861.3" class="lg">13-No.8</text>
<circle cx="895.7" cy="869.1" r="4.4" fill="#ff0000"/>
<text x="902.9" y="873.3" class="lg">13-L047</text>
<rect x="891.4" y="876.8" width="8.6" height="8.6" rx="1.3" fill="#008000"/>
<text x="902.9" y="885.3" class="lg">14-No.1</text>
<rect x="891.4" y="888.8" width="8.6" height="8.6" rx="1.3" fill="#000080"/>
<text x="902.9" y="897.3" class="lg">14-Au1</text>
<rect x="891.4" y="900.8" width="8.6" height="8.6" rx="1.3" fill="#ff0000"/>
<text x="902.9" y="909.3" class="lg">14-L047</text>
<path d="M895.7,914.3 L898.85,919.9 L892.55,919.9 Z" fill="#008000" stroke="#008000" stroke-width="2.4" stroke-linejoin="round"/>
<text x="902.9" y="921.3" class="lg">15-No.1</text>
<path d="M895.7,926.3 L898.85,931.9 L892.55,931.9 Z" fill="#000080" stroke="#000080" stroke-width="2.4" stroke-linejoin="round"/>
<text x="902.9" y="933.3" class="lg">15-Au1</text>
<path d="M895.7,938.3 L898.85,943.9 L892.55,943.9 Z" fill="#ff0000" stroke="#ff0000" stroke-width="2.4" stroke-linejoin="round"/>
<text x="902.9" y="945.3" class="lg">15-L047</text>
<rect x="581.8" y="589.5" width="380.60" height="370.40" fill="none" stroke="#111" stroke-width="2.3"/>
<line x1="573.8" y1="959.90" x2="581.8" y2="959.90" stroke="#111" stroke-width="2.1"/>
<text x="569.8" y="970.00" text-anchor="end" class="tk">0</text>
<line x1="581.80" y1="959.9" x2="581.80" y2="967.9" stroke="#111" stroke-width="2.1"/>
<text x="581.80" y="992.70" text-anchor="middle" class="tk">0</text>
<line x1="573.8" y1="872.85" x2="581.8" y2="872.85" stroke="#111" stroke-width="2.1"/>
<text x="569.8" y="882.95" text-anchor="end" class="tk">20</text>
<line x1="671.38" y1="959.9" x2="671.38" y2="967.9" stroke="#111" stroke-width="2.1"/>
<text x="671.38" y="992.70" text-anchor="middle" class="tk">20</text>
<line x1="573.8" y1="785.80" x2="581.8" y2="785.80" stroke="#111" stroke-width="2.1"/>
<text x="569.8" y="795.90" text-anchor="end" class="tk">40</text>
<line x1="760.96" y1="959.9" x2="760.96" y2="967.9" stroke="#111" stroke-width="2.1"/>
<text x="760.96" y="992.70" text-anchor="middle" class="tk">40</text>
<line x1="573.8" y1="698.75" x2="581.8" y2="698.75" stroke="#111" stroke-width="2.1"/>
<text x="569.8" y="708.85" text-anchor="end" class="tk">60</text>
<line x1="850.54" y1="959.9" x2="850.54" y2="967.9" stroke="#111" stroke-width="2.1"/>
<text x="850.54" y="992.70" text-anchor="middle" class="tk">60</text>
<line x1="573.8" y1="611.70" x2="581.8" y2="611.70" stroke="#111" stroke-width="2.1"/>
<text x="569.8" y="621.80" text-anchor="end" class="tk">80</text>
<line x1="940.12" y1="959.9" x2="940.12" y2="967.9" stroke="#111" stroke-width="2.1"/>
<text x="940.12" y="992.70" text-anchor="middle" class="tk">80</text>
<text x="772.6" y="1034.1" text-anchor="middle" class="al">Regressed QY (%)</text>
<text transform="translate(529.6,776.0) rotate(-90)" text-anchor="middle" class="al">Measured QY (%)</text>
<text x="553.5" y="569.5" class="pl" style="font-size:45.5px">d</text>
</svg></body></html>
